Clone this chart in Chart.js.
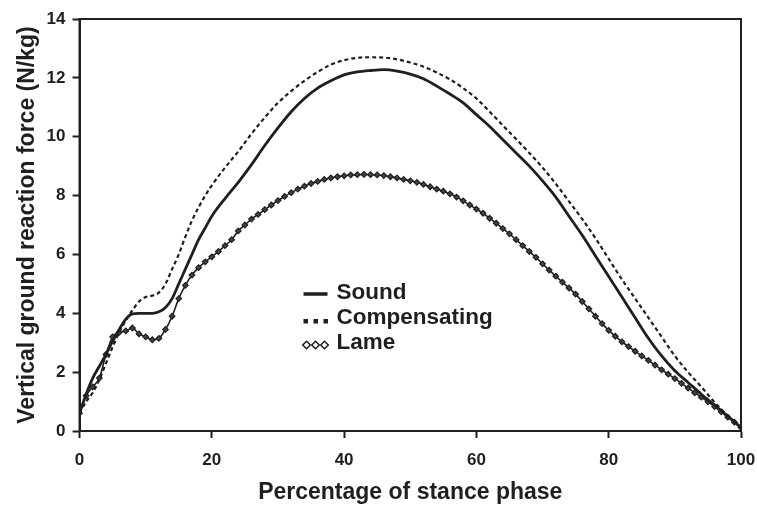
<!DOCTYPE html>
<html>
<head>
<meta charset="utf-8">
<script src="https://cdn.jsdelivr.net/npm/chart.js@4.4.1/dist/chart.umd.min.js"></script>
<style>
	html, body { margin: 0; padding: 0; background: #fff; }
</style>
</head>
<body>
<canvas id="grf_chart" width="757" height="507"></canvas>
<script>
// stance phase (%) for the two plain lines
const stanceCoarse = [0, 1, 2, 3, 4, 5, 6, 7, 8, 9, 10, 11, 12, 13, 14, 15, 16, 17, 18, 19, 20,
	22, 24, 26, 28, 30, 32, 34, 36, 38, 40, 42, 44, 46, 48, 50, 52, 54, 56, 58, 60,
	62, 64, 66, 68, 70, 72, 74, 76, 78, 80, 82, 84, 86, 88, 90, 92, 94, 96, 98, 100];
const sound = [0.6, 1.25, 1.8, 2.2, 2.6, 3.05, 3.45, 3.8, 3.98, 4.0, 4.0, 4.0, 4.05, 4.2, 4.5, 5.0, 5.5, 6.0, 6.5, 6.9, 7.3,
	7.9, 8.45, 9.05, 9.7, 10.3, 10.85, 11.3, 11.65, 11.9, 12.1, 12.2, 12.25, 12.28, 12.23, 12.13, 11.97, 11.72, 11.45, 11.15, 10.75,
	10.35, 9.9, 9.45, 9.0, 8.5, 7.95, 7.3, 6.65, 5.95, 5.25, 4.55, 3.85, 3.15, 2.55, 2.05, 1.65, 1.25, 0.88, 0.5, 0.12];
const compensating = [0.6, 1.0, 1.3, 1.75, 2.3, 2.85, 3.35, 3.75, 4.1, 4.4, 4.55, 4.6, 4.7, 5.0, 5.5, 6.0, 6.6, 7.15, 7.6, 8.0, 8.35,
	8.95, 9.5, 10.1, 10.65, 11.15, 11.55, 11.9, 12.2, 12.45, 12.6, 12.68, 12.7, 12.69, 12.63, 12.52, 12.38, 12.18, 11.95, 11.65, 11.3,
	10.85, 10.38, 9.92, 9.45, 8.95, 8.4, 7.8, 7.2, 6.55, 5.85, 5.15, 4.5, 3.85, 3.2, 2.55, 2.0, 1.5, 0.98, 0.52, 0.12];

// lame limb is sampled every 1 % (one marker each)
const stanceFine = Array.from({ length: 101 }, (_, i) => i);
const lame = [0.6, 1.2, 1.5, 1.8, 2.6, 3.2, 3.35, 3.4, 3.5, 3.3, 3.2, 3.1, 3.15, 3.45, 3.9, 4.5, 4.95, 5.3, 5.55, 5.75,
	5.92, 6.1, 6.3, 6.5, 6.8, 7.0, 7.2, 7.36, 7.52, 7.68, 7.83, 7.97, 8.1, 8.22, 8.32, 8.41, 8.48, 8.55, 8.6, 8.64,
	8.67, 8.7, 8.71, 8.72, 8.71, 8.7, 8.68, 8.64, 8.6, 8.55, 8.5, 8.45, 8.38, 8.3, 8.22, 8.15, 8.06, 7.95, 7.82, 7.68,
	7.54, 7.4, 7.23, 7.06, 6.88, 6.7, 6.5, 6.3, 6.1, 5.9, 5.68, 5.47, 5.26, 5.06, 4.86, 4.65, 4.4, 4.15, 3.9, 3.65,
	3.42, 3.22, 3.03, 2.87, 2.71, 2.55, 2.4, 2.24, 2.08, 1.93, 1.78, 1.62, 1.46, 1.3, 1.15, 0.99, 0.83, 0.65, 0.47, 0.3, 0.12];

const xTicks = [0, 20, 40, 60, 80, 100];
const yTicks = [0, 2, 4, 6, 8, 10, 12, 14];

const ink = '#1f1f1f';
const face = 'Liberation Sans';
const pairs = (xs, ys) => xs.map((x, i) => ({ x: x, y: ys[i] }));

// box round the plot + the legend sitting inside it
const framePlugin = {
	id: 'frame',
	afterDraw(chart) {
		const { ctx, chartArea: a } = chart;
		ctx.save();
		ctx.strokeStyle = ink;
		ctx.lineWidth = 2;
		ctx.strokeRect(a.left, a.top, a.right - a.left, a.bottom - a.top);

		const sx = a.left + 224;
		const tx = a.left + 257;
		const rows = [a.top + 274, a.top + 299, a.top + 324];
		ctx.fillStyle = ink;
		ctx.font = `bold 22.5px "${face}"`;
		ctx.textBaseline = 'middle';
		ctx.fillText('Sound', tx, rows[0]);
		ctx.fillText('Compensating', tx, rows[1]);
		ctx.fillText('Lame', tx, rows[2]);

		ctx.lineWidth = 3.5;
		ctx.beginPath();
		ctx.moveTo(sx, rows[0] + 1);
		ctx.lineTo(sx + 24, rows[0] + 1);
		ctx.stroke();
		for (let k = 0; k < 3; k++) {
			ctx.fillRect(sx + k * 10, rows[1] + 1, 4.5, 4.5);
		}
		ctx.lineWidth = 1.5;
		for (let k = 0; k < 3; k++) {
			const cx = sx + 3 + k * 9, cy = rows[2] + 2;
			ctx.beginPath();
			ctx.moveTo(cx - 3.8, cy);
			ctx.lineTo(cx, cy - 3.8);
			ctx.lineTo(cx + 3.8, cy);
			ctx.lineTo(cx, cy + 3.8);
			ctx.closePath();
			ctx.stroke();
		}
		ctx.restore();
	}
};

new Chart(document.getElementById('grf_chart'), {
	type: 'line',
	data: {
		datasets: [
			{
				label: 'Sound',
				data: pairs(stanceCoarse, sound),
				borderColor: ink,
				borderWidth: 2.8,
				pointRadius: 0,
				cubicInterpolationMode: 'monotone'
			},
			{
				label: 'Compensating',
				data: pairs(stanceCoarse, compensating),
				borderColor: ink,
				borderWidth: 2.2,
				borderDash: [4, 3],
				pointRadius: 0,
				cubicInterpolationMode: 'monotone'
			},
			{
				label: 'Lame',
				data: pairs(stanceFine, lame),
				borderColor: ink,
				borderWidth: 1.6,
				pointStyle: 'rectRot',
				pointRadius: 2.8,
				pointBorderWidth: 1.2,
				pointBorderColor: ink,
				pointBackgroundColor: '#444',
				cubicInterpolationMode: 'monotone'
			}
		]
	},
	options: {
		responsive: false,
		animation: false,
		layout: { padding: { top: 19, right: 16, left: 14, bottom: 1 } },
		plugins: {
			legend: { display: false },
			tooltip: { enabled: false }
		},
		scales: {
			x: {
				type: 'linear',
				min: 0,
				max: 100,
				afterBuildTicks: axis => { axis.ticks = xTicks.map(v => ({ value: v })); },
				// chart.js counts the tick padding twice; take one back
				afterFit: axis => {
					axis.paddingLeft = 0;
					axis.paddingRight = 0;
					axis.height -= axis.options.ticks.padding;
				},
				border: { color: ink, width: 2 },
				grid: { drawOnChartArea: false, color: ink, tickLength: 7, tickWidth: 2 },
				ticks: { color: ink, padding: 12, font: { family: face, size: 17, weight: 'bold' } },
				title: {
					display: true,
					text: 'Percentage of stance phase',
					color: ink,
					padding: { top: 8, bottom: 0 },
					font: { family: face, size: 23, weight: 'bold' }
				}
			},
			y: {
				min: 0,
				max: 14,
				afterBuildTicks: axis => { axis.ticks = yTicks.map(v => ({ value: v })); },
				afterFit: axis => {
					axis.paddingTop = 0;
					axis.paddingBottom = 0;
					axis.width -= axis.options.ticks.padding;
				},
				border: { color: ink, width: 2 },
				grid: { drawOnChartArea: false, color: ink, tickLength: 7, tickWidth: 2 },
				ticks: { color: ink, padding: 7, font: { family: face, size: 17, weight: 'bold' } },
				title: {
					display: true,
					text: 'Vertical ground reaction force (N/kg)',
					color: ink,
					padding: { top: 0, bottom: 5 },
					font: { family: face, size: 23, weight: 'bold' }
				}
			}
		}
	},
	plugins: [framePlugin]
});
</script>
</body>
</html>
